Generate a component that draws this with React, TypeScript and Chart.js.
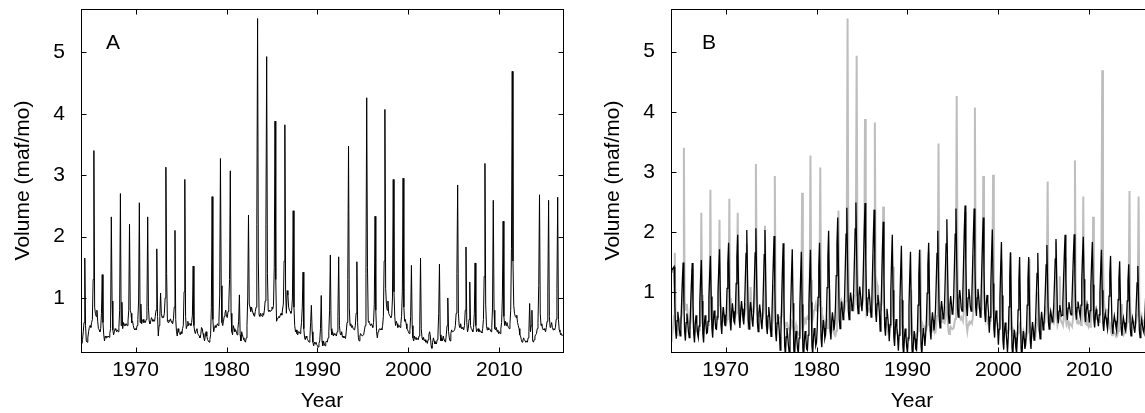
import React, { useEffect, useRef } from "react";
import { Chart, registerables } from "chart.js";

Chart.register(...registerables);

const START_YEAR = 1964;
const X_MIN = 1964;
const X_MAX = 2017;
const xTicks = [1970, 1980, 1990, 2000, 2010];
const yTicks = [1, 2, 3, 4, 5];
const xTitle = "Year";
const yTitle = "Volume (maf/mo)";

// Observed monthly volume (maf/mo), one row per year, Jan..Dec, 1964-2016
const observedRows: number[][] = [
  [0.30, 0.26, 0.32, 0.45, 0.60, 1.65, 0.55, 0.30, 0.28, 0.35, 0.45, 0.52],
  [0.55, 0.52, 0.60, 0.65, 1.30, 3.40, 0.85, 0.75, 0.70, 0.80, 0.62, 0.50],
  [0.48, 0.45, 0.50, 0.75, 1.38, 0.60, 0.40, 0.30, 0.38, 0.35, 0.38, 0.36],
  [0.38, 0.36, 0.42, 0.50, 2.32, 0.95, 0.48, 0.40, 0.45, 0.50, 0.48, 0.45],
  [0.48, 0.45, 0.52, 0.80, 2.70, 0.55, 0.93, 0.50, 0.60, 0.55, 0.58, 0.55],
  [0.58, 0.55, 0.62, 0.80, 2.20, 0.80, 0.75, 0.60, 0.62, 0.55, 0.50, 0.48],
  [0.50, 0.48, 0.55, 0.65, 0.95, 2.55, 0.60, 0.90, 0.58, 0.62, 0.65, 0.60],
  [0.62, 0.60, 0.65, 0.80, 2.32, 0.85, 0.62, 0.58, 0.62, 0.68, 0.65, 0.62],
  [0.64, 0.62, 0.70, 0.80, 1.80, 0.70, 0.38, 0.55, 0.70, 1.08, 0.75, 0.68],
  [0.70, 0.68, 0.75, 1.00, 3.13, 1.40, 0.62, 0.60, 0.64, 0.62, 0.66, 0.62],
  [0.60, 0.58, 0.66, 0.85, 2.10, 0.65, 0.45, 0.38, 0.50, 0.45, 0.42, 0.40],
  [0.45, 0.42, 0.50, 0.55, 1.10, 2.93, 0.70, 0.50, 0.55, 0.62, 0.55, 0.58],
  [0.58, 0.55, 0.60, 0.72, 1.52, 0.55, 0.45, 0.42, 0.48, 0.50, 0.42, 0.40],
  [0.38, 0.35, 0.40, 0.52, 0.50, 0.42, 0.36, 0.30, 0.38, 0.45, 0.38, 0.32],
  [0.30, 0.28, 0.32, 0.40, 0.85, 2.65, 0.65, 0.45, 0.50, 0.55, 0.52, 0.55],
  [0.58, 0.55, 0.62, 1.05, 3.27, 1.20, 0.60, 0.55, 0.62, 0.70, 0.75, 0.80],
  [0.70, 0.68, 0.78, 0.90, 1.30, 3.07, 0.75, 0.45, 0.40, 0.55, 0.50, 0.45],
  [0.48, 0.45, 0.40, 0.50, 0.62, 1.05, 0.40, 0.30, 0.45, 0.40, 0.35, 0.32],
  [0.30, 0.28, 0.35, 0.55, 1.00, 2.35, 0.90, 0.85, 0.78, 0.85, 0.80, 0.75],
  [0.72, 0.70, 0.78, 0.85, 2.20, 5.55, 1.60, 0.72, 0.70, 0.75, 0.72, 0.70],
  [0.75, 0.72, 0.80, 0.95, 2.20, 4.93, 1.40, 0.80, 0.78, 0.80, 0.78, 0.80],
  [0.85, 0.82, 0.88, 1.50, 3.88, 1.30, 0.62, 0.65, 0.68, 0.70, 0.68, 0.72],
  [0.75, 0.72, 0.82, 0.90, 1.60, 3.82, 1.10, 0.75, 1.12, 1.05, 0.85, 0.80],
  [0.78, 0.75, 0.80, 1.00, 2.42, 0.85, 0.55, 0.45, 0.48, 0.42, 0.40, 0.45],
  [0.45, 0.42, 0.48, 0.60, 0.85, 1.42, 0.50, 0.35, 0.32, 0.38, 0.35, 0.32],
  [0.30, 0.28, 0.34, 0.60, 0.88, 0.45, 0.28, 0.22, 0.28, 0.25, 0.28, 0.24],
  [0.22, 0.20, 0.26, 0.30, 0.50, 1.04, 0.30, 0.22, 0.30, 0.25, 0.22, 0.28],
  [0.30, 0.28, 0.35, 0.45, 0.80, 1.70, 0.50, 0.40, 0.45, 0.38, 0.42, 0.40],
  [0.40, 0.38, 0.45, 0.70, 1.67, 0.55, 0.42, 0.40, 0.45, 0.36, 0.38, 0.35],
  [0.36, 0.34, 0.45, 0.60, 1.30, 3.47, 0.85, 0.55, 0.58, 0.52, 0.55, 0.50],
  [0.50, 0.48, 0.55, 0.75, 1.59, 0.60, 0.35, 0.30, 0.38, 0.42, 0.40, 0.38],
  [0.38, 0.40, 0.48, 0.55, 1.40, 4.26, 1.50, 0.62, 0.60, 0.58, 0.55, 0.58],
  [0.55, 0.52, 0.60, 0.90, 2.33, 0.80, 0.45, 0.35, 0.45, 0.48, 0.50, 0.48],
  [0.50, 0.48, 0.55, 0.70, 1.60, 4.07, 1.15, 0.90, 0.80, 0.95, 0.75, 0.72],
  [0.70, 0.68, 0.72, 1.00, 2.93, 1.10, 0.70, 0.55, 0.62, 0.58, 0.52, 0.55],
  [0.55, 0.52, 0.58, 0.70, 1.10, 2.95, 0.85, 0.62, 0.65, 0.58, 0.50, 0.48],
  [0.45, 0.42, 0.48, 0.70, 1.53, 0.55, 0.35, 0.30, 0.38, 0.33, 0.36, 0.32],
  [0.34, 0.32, 0.38, 0.55, 1.65, 0.50, 0.35, 0.32, 0.36, 0.30, 0.32, 0.28],
  [0.30, 0.26, 0.32, 0.40, 0.45, 0.38, 0.22, 0.18, 0.28, 0.35, 0.30, 0.25],
  [0.28, 0.25, 0.32, 0.40, 0.75, 1.55, 0.40, 0.30, 0.35, 0.30, 0.38, 0.32],
  [0.30, 0.28, 0.40, 0.55, 1.00, 0.45, 0.35, 0.30, 0.42, 0.48, 0.45, 0.45],
  [0.45, 0.48, 0.55, 0.75, 1.40, 2.84, 0.75, 0.55, 0.52, 0.58, 0.50, 0.52],
  [0.50, 0.48, 0.55, 0.80, 1.83, 0.60, 0.45, 0.50, 0.65, 1.26, 0.55, 0.50],
  [0.48, 0.45, 0.52, 0.75, 1.57, 0.55, 0.45, 0.48, 0.50, 0.45, 0.48, 0.45],
  [0.45, 0.43, 0.50, 0.65, 1.35, 3.19, 0.90, 0.55, 0.48, 0.52, 0.48, 0.50],
  [0.48, 0.45, 0.52, 0.85, 2.59, 0.80, 0.50, 0.48, 0.52, 0.45, 0.48, 0.42],
  [0.45, 0.42, 0.50, 0.60, 1.00, 2.25, 0.70, 0.55, 0.62, 0.55, 0.60, 0.55],
  [0.52, 0.50, 0.58, 0.80, 1.80, 4.69, 1.60, 0.88, 0.75, 0.70, 0.68, 0.72],
  [0.60, 0.55, 0.50, 0.40, 0.38, 0.32, 0.28, 0.30, 0.35, 0.32, 0.30, 0.28],
  [0.30, 0.28, 0.35, 0.45, 0.91, 0.45, 0.55, 0.80, 0.30, 0.28, 0.32, 0.38],
  [0.40, 0.42, 0.50, 0.60, 1.20, 2.68, 0.75, 0.55, 0.58, 0.50, 0.48, 0.50],
  [0.48, 0.45, 0.52, 0.62, 1.10, 2.59, 0.70, 0.52, 0.55, 0.60, 0.52, 0.48],
  [0.50, 0.48, 0.52, 0.65, 1.15, 2.64, 0.65, 0.48, 0.45, 0.40, 0.42, 0.38],
];

// Modelled monthly volume (maf/mo), one row per year, Jan..Dec, 1964-2016
const modeledRows: number[][] = [
  [1.33, 1.36, 1.38, 1.40, 1.42, 0.82, 0.37, 0.22, 0.52, 0.67, 0.54, 0.37],
  [0.27, 0.45, 0.82, 1.19, 1.49, 0.84, 0.34, 0.19, 0.49, 0.64, 0.51, 0.34],
  [0.24, 0.43, 0.80, 1.17, 1.48, 0.82, 0.31, 0.16, 0.46, 0.61, 0.48, 0.31],
  [0.24, 0.43, 0.82, 1.21, 1.53, 0.85, 0.31, 0.16, 0.46, 0.61, 0.48, 0.31],
  [0.32, 0.51, 0.90, 1.28, 1.60, 0.92, 0.39, 0.24, 0.54, 0.69, 0.56, 0.39],
  [0.38, 0.58, 0.98, 1.38, 1.71, 1.01, 0.45, 0.30, 0.60, 0.75, 0.62, 0.45],
  [0.44, 0.65, 1.06, 1.48, 1.82, 1.09, 0.51, 0.36, 0.66, 0.81, 0.68, 0.51],
  [0.48, 0.70, 1.14, 1.58, 1.95, 1.18, 0.55, 0.40, 0.70, 0.85, 0.72, 0.55],
  [0.46, 0.70, 1.17, 1.64, 2.03, 1.21, 0.53, 0.38, 0.68, 0.83, 0.70, 0.53],
  [0.42, 0.67, 1.16, 1.65, 2.06, 1.20, 0.49, 0.34, 0.64, 0.79, 0.66, 0.49],
  [0.38, 0.63, 1.12, 1.62, 2.03, 1.17, 0.45, 0.30, 0.60, 0.75, 0.62, 0.45],
  [0.26, 0.51, 1.01, 1.51, 1.93, 1.06, 0.33, 0.18, 0.48, 0.63, 0.50, 0.33],
  [0.03, 0.30, 0.83, 1.37, 1.81, 0.88, 0.10, -0.05, 0.25, 0.40, 0.27, 0.10],
  [-0.02, 0.24, 0.76, 1.28, 1.71, 0.81, 0.05, -0.10, 0.20, 0.35, 0.22, 0.05],
  [-0.02, 0.23, 0.74, 1.25, 1.67, 0.79, 0.05, -0.10, 0.20, 0.35, 0.22, 0.05],
  [0.03, 0.28, 0.78, 1.28, 1.70, 0.83, 0.10, -0.05, 0.25, 0.40, 0.27, 0.10],
  [0.16, 0.41, 0.91, 1.41, 1.82, 0.95, 0.23, 0.08, 0.38, 0.53, 0.40, 0.23],
  [0.29, 0.55, 1.07, 1.59, 2.02, 1.12, 0.36, 0.21, 0.51, 0.66, 0.53, 0.36],
  [0.47, 0.74, 1.27, 1.80, 2.24, 1.32, 0.54, 0.39, 0.69, 0.84, 0.71, 0.54],
  [0.62, 0.89, 1.42, 1.96, 2.40, 1.47, 0.69, 0.54, 0.84, 0.99, 0.86, 0.69],
  [0.72, 0.99, 1.52, 2.05, 2.49, 1.57, 0.79, 0.64, 0.94, 1.09, 0.96, 0.79],
  [0.68, 0.95, 1.49, 2.03, 2.48, 1.54, 0.75, 0.60, 0.90, 1.05, 0.92, 0.75],
  [0.58, 0.85, 1.39, 1.92, 2.37, 1.44, 0.65, 0.50, 0.80, 0.95, 0.82, 0.65],
  [0.35, 0.62, 1.17, 1.72, 2.17, 1.22, 0.42, 0.27, 0.57, 0.72, 0.59, 0.42],
  [0.18, 0.45, 0.98, 1.51, 1.95, 1.03, 0.25, 0.10, 0.40, 0.55, 0.42, 0.25],
  [0.02, 0.28, 0.81, 1.33, 1.77, 0.86, 0.09, -0.06, 0.24, 0.39, 0.26, 0.09],
  [-0.02, 0.23, 0.74, 1.25, 1.67, 0.79, 0.05, -0.10, 0.20, 0.35, 0.22, 0.05],
  [0.03, 0.28, 0.78, 1.28, 1.70, 0.83, 0.10, -0.05, 0.25, 0.40, 0.27, 0.10],
  [0.29, 0.52, 0.98, 1.44, 1.82, 1.02, 0.36, 0.21, 0.51, 0.66, 0.53, 0.36],
  [0.48, 0.71, 1.17, 1.64, 2.02, 1.21, 0.55, 0.40, 0.70, 0.85, 0.72, 0.55],
  [0.56, 0.81, 1.30, 1.80, 2.21, 1.35, 0.63, 0.48, 0.78, 0.93, 0.80, 0.63],
  [0.66, 0.92, 1.44, 1.96, 2.39, 1.49, 0.73, 0.58, 0.88, 1.03, 0.90, 0.73],
  [0.68, 0.94, 1.47, 2.00, 2.44, 1.52, 0.75, 0.60, 0.90, 1.05, 0.92, 0.75],
  [0.68, 0.94, 1.45, 1.96, 2.39, 1.50, 0.75, 0.60, 0.90, 1.05, 0.92, 0.75],
  [0.58, 0.83, 1.33, 1.83, 2.24, 1.37, 0.65, 0.50, 0.80, 0.95, 0.82, 0.65],
  [0.32, 0.58, 1.09, 1.61, 2.04, 1.14, 0.39, 0.24, 0.54, 0.69, 0.56, 0.39],
  [0.12, 0.38, 0.89, 1.40, 1.83, 0.94, 0.19, 0.04, 0.34, 0.49, 0.36, 0.19],
  [0.00, 0.25, 0.75, 1.25, 1.66, 0.79, 0.07, -0.08, 0.22, 0.37, 0.24, 0.07],
  [-0.02, 0.22, 0.70, 1.18, 1.58, 0.74, 0.05, -0.10, 0.20, 0.35, 0.22, 0.05],
  [0.13, 0.35, 0.78, 1.22, 1.58, 0.82, 0.20, 0.05, 0.35, 0.50, 0.37, 0.20],
  [0.30, 0.50, 0.91, 1.31, 1.65, 0.94, 0.37, 0.22, 0.52, 0.67, 0.54, 0.37],
  [0.46, 0.66, 1.05, 1.45, 1.78, 1.08, 0.50, 0.38, 0.58, 0.68, 0.60, 0.50],
  [0.56, 0.76, 1.15, 1.55, 1.88, 1.18, 0.60, 0.48, 0.68, 0.78, 0.70, 0.60],
  [0.61, 0.81, 1.21, 1.62, 1.95, 1.24, 0.65, 0.53, 0.73, 0.83, 0.75, 0.65],
  [0.62, 0.82, 1.22, 1.63, 1.96, 1.25, 0.66, 0.54, 0.74, 0.84, 0.76, 0.66],
  [0.58, 0.78, 1.18, 1.59, 1.92, 1.21, 0.62, 0.50, 0.70, 0.80, 0.72, 0.62],
  [0.49, 0.69, 1.09, 1.50, 1.83, 1.12, 0.53, 0.41, 0.61, 0.71, 0.63, 0.53],
  [0.43, 0.62, 1.00, 1.38, 1.70, 1.03, 0.47, 0.35, 0.55, 0.65, 0.57, 0.47],
  [0.38, 0.56, 0.93, 1.30, 1.60, 0.95, 0.42, 0.30, 0.50, 0.60, 0.52, 0.42],
  [0.35, 0.52, 0.87, 1.22, 1.51, 0.89, 0.39, 0.27, 0.47, 0.57, 0.49, 0.39],
  [0.35, 0.52, 0.85, 1.18, 1.46, 0.87, 0.39, 0.27, 0.47, 0.57, 0.49, 0.39],
  [0.32, 0.49, 0.82, 1.15, 1.43, 0.84, 0.36, 0.24, 0.44, 0.54, 0.46, 0.36],
  [0.32, 0.49, 0.82, 1.15, 1.43, 0.84, 0.36, 0.24, 0.44, 0.54, 0.46, 0.36],
];

const FONT = '"Liberation Sans", Arial, Helvetica, sans-serif';

function toPoints(rows: number[][]) {
  const pts: { x: number; y: number }[] = [];
  rows.forEach((row, yi) =>
    row.forEach((v, m) => pts.push({ x: START_YEAR + yi + m / 12, y: v }))
  );
  return pts;
}

function framePlugin(letter: string, dx: number) {
  return {
    id: "frameBox",
    afterDatasetsDraw(chart: any) {
      const { ctx, chartArea: a, scales } = chart;
      const xs = scales.x;
      const ys = scales.y;
      const L = Math.floor(a.left) + 0.5;
      const T = Math.floor(a.top) + 0.5;
      const R = L + Math.round(a.right - a.left);
      const B = T + Math.round(a.bottom - a.top);
      ctx.save();
      ctx.strokeStyle = "#000";
      ctx.lineWidth = 1;
      ctx.strokeRect(L, T, R - L, B - T);
      const tl = 5;
      ctx.beginPath();
      xTicks.forEach((v) => {
        const px = Math.round(xs.getPixelForValue(v)) + 0.5;
        ctx.moveTo(px, T);
        ctx.lineTo(px, T + tl);
        ctx.moveTo(px, B);
        ctx.lineTo(px, B - tl);
      });
      yTicks.forEach((v) => {
        const py = Math.round(ys.getPixelForValue(v)) + 0.5;
        ctx.moveTo(L, py);
        ctx.lineTo(L + tl, py);
        ctx.moveTo(R, py);
        ctx.lineTo(R - tl, py);
      });
      ctx.stroke();
      ctx.fillStyle = "#000";
      ctx.font = `21px ${FONT}`;
      ctx.textAlign = "left";
      ctx.textBaseline = "alphabetic";
      ctx.fillText(letter, a.left + dx, a.top + 40);
      ctx.restore();
    },
  };
}

type PanelProps = {
  letter: string;
  letterDx: number;
  left: number;
  width: number;
  padRight: number;
  yMin: number;
  yMax: number;
  datasets: any[];
};

function Panel({ letter, letterDx, left, width, padRight, yMin, yMax, datasets }: PanelProps) {
  const ref = useRef<HTMLCanvasElement | null>(null);
  useEffect(() => {
    if (!ref.current) return;
    const tickFont = { family: FONT, size: 21, lineHeight: 1.2 };
    const titleFont = { family: FONT, size: 21, lineHeight: 1 };
    const chart = new Chart(ref.current, {
      type: "line",
      data: { datasets },
      options: {
        responsive: false,
        maintainAspectRatio: false,
        animation: false,
        devicePixelRatio: 1,
        layout: { padding: { left: 0, right: padRight, top: 9, bottom: 0 } },
        plugins: { legend: { display: false }, tooltip: { enabled: false } },
        elements: { point: { radius: 0 }, line: { tension: 0 } },
        scales: {
          x: {
            type: "linear",
            min: X_MIN,
            max: X_MAX,
            grid: { display: false, drawTicks: false },
            border: { display: false },
            afterBuildTicks: (s: any) => {
              s.ticks = xTicks.map((v) => ({ value: v }));
            },
            afterFit: (s: any) => {
              s.height = 61;
              s.paddingLeft = 0;
              s.paddingRight = 0;
              s.paddingTop = 0;
              s.paddingBottom = 0;
            },
            ticks: {
              padding: 5.5,
              color: "#000",
              font: tickFont,
              autoSkip: false,
              maxRotation: 0,
              callback: (v: any) => String(v),
            },
            title: {
              display: true,
              text: xTitle,
              color: "#000",
              font: titleFont,
              padding: { top: 0, bottom: 1 },
            },
          },
          y: {
            type: "linear",
            min: yMin,
            max: yMax,
            grid: { display: false, drawTicks: false },
            border: { display: false },
            afterBuildTicks: (s: any) => {
              s.ticks = yTicks.map((v) => ({ value: v }));
            },
            afterFit: (s: any) => {
              s.width = 81;
              s.paddingLeft = 0;
              s.paddingRight = 0;
              s.paddingTop = 0;
              s.paddingBottom = 0;
            },
            ticks: {
              padding: 16,
              color: "#000",
              font: tickFont,
              autoSkip: false,
              callback: (v: any) => String(v),
            },
            title: {
              display: true,
              text: yTitle,
              color: "#000",
              font: titleFont,
              padding: { top: 13, bottom: 0 },
            },
          },
        },
      },
      plugins: [framePlugin(letter, letterDx)],
    } as any);
    return () => chart.destroy();
  }, []);
  return (
    <canvas
      ref={ref}
      width={width}
      height={413}
      style={{ position: "absolute", left, top: 0, width, height: 413, display: "block" }}
    />
  );
}

export default function App() {
  const observed = toPoints(observedRows);
  const modeled = toPoints(modeledRows);
  const dsA = [
    { data: observed, borderColor: "#000000", borderWidth: 1, pointRadius: 0, fill: false },
  ];
  const dsB = [
    { data: modeled, borderColor: "#000000", borderWidth: 1.3, pointRadius: 0, fill: false, order: 0 },
    { data: observed, borderColor: "#bebebe", borderWidth: 2, pointRadius: 0, fill: false, order: 1 },
  ];
  return (
    <div
      style={{
        position: "absolute",
        left: 0,
        top: 0,
        width: 1145,
        height: 413,
        overflow: "hidden",
        background: "#fff",
      }}
    >
      <Panel letter="A" letterDx={25} left={0} width={572} padRight={9} yMin={0.12} yMax={5.705} datasets={dsA} />
      <Panel letter="B" letterDx={31} left={590} width={575} padRight={12} yMin={0} yMax={5.71} datasets={dsB} />
    </div>
  );
}
